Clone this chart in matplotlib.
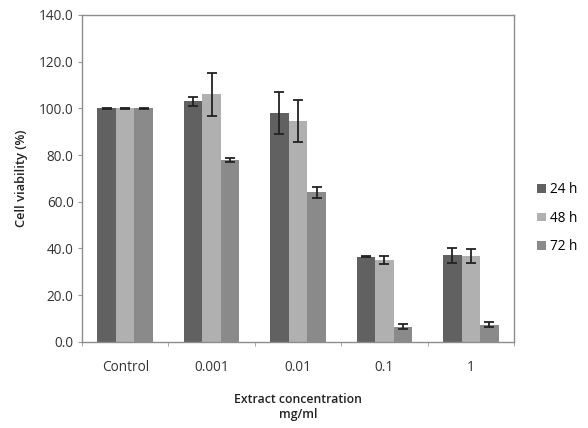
import matplotlib
matplotlib.use("Agg")
import matplotlib.pyplot as plt
import numpy as np

categories = ["Control", "0.001", "0.01", "0.1", "1"]
series_names = ["24 h", "48 h", "72 h"]
values_24h = [100.0, 103.0, 98.0, 36.5, 37.0]
values_48h = [100.0, 106.0, 94.7, 35.0, 36.7]
values_72h = [100.0, 77.8, 64.1, 6.5, 7.3]
err_24h = [0.3, 2.0, 9.0, 0.3, 3.3]
err_48h = [0.3, 9.2, 9.0, 1.8, 3.0]
err_72h = [0.3, 0.8, 2.4, 1.0, 1.0]
colors = ["#616161", "#b0b0b0", "#8a8a8a"]
yticks = [0, 20, 40, 60, 80, 100, 120, 140]

plt.rcParams['font.family'] = ['Open Sans', 'DejaVu Sans']

fig = plt.figure(figsize=(5.88, 4.28), dpi=100)
ax = fig.add_axes([82/588, 1-341.7/428, (514-82)/588, (341.7-15)/428])

x = np.arange(len(categories))
w = 0.215
data = [values_24h, values_48h, values_72h]
errs = [err_24h, err_48h, err_72h]
for i, (vals, e, c, name) in enumerate(zip(data, errs, colors, series_names)):
    ax.bar(x + (i-1)*w, vals, width=w, color=c, label=name, zorder=2)
    ax.errorbar(x + (i-1)*w, vals, yerr=e, fmt='none', ecolor='#222222',
                elinewidth=1.3, capsize=3.5, capthick=1.3, zorder=3)

ax.set_xlim(-0.5, len(categories)-0.5)
ax.set_ylim(0, 140)
ax.set_yticks(yticks)
ax.set_yticklabels([f"{v:.1f}" for v in yticks], fontsize=9.8, color='#333333')
ax.set_xticks(x)
ax.set_xticklabels(categories, fontsize=9.8, color='#333333')
ax.tick_params(axis='x', length=0, pad=13)
ax.set_xticks(np.arange(len(categories)+1) - 0.5, minor=True)
ax.tick_params(axis='x', which='minor', length=3, color='#999999', direction='out')
ax.tick_params(axis='y', length=3, color='#999999', direction='out', pad=3)

for s in ax.spines.values():
    s.set_color('#8c8c8c')
    s.set_linewidth(1.0)

ax.set_ylabel("Cell viability (%)", fontsize=9.3, fontweight='semibold', color='#222222', labelpad=8)
ax.set_xlabel("Extract concentration\nmg/ml", fontsize=8.8, fontweight='semibold', color='#222222', labelpad=13, linespacing=1.25)

leg = fig.legend(loc='center left', bbox_to_anchor=(0.893, 0.49), frameon=False,
                 fontsize=9.8, handlelength=0.6, handleheight=0.6, handletextpad=0.35,
                 labelspacing=1.0)

fig.savefig("out.png", dpi=100)
